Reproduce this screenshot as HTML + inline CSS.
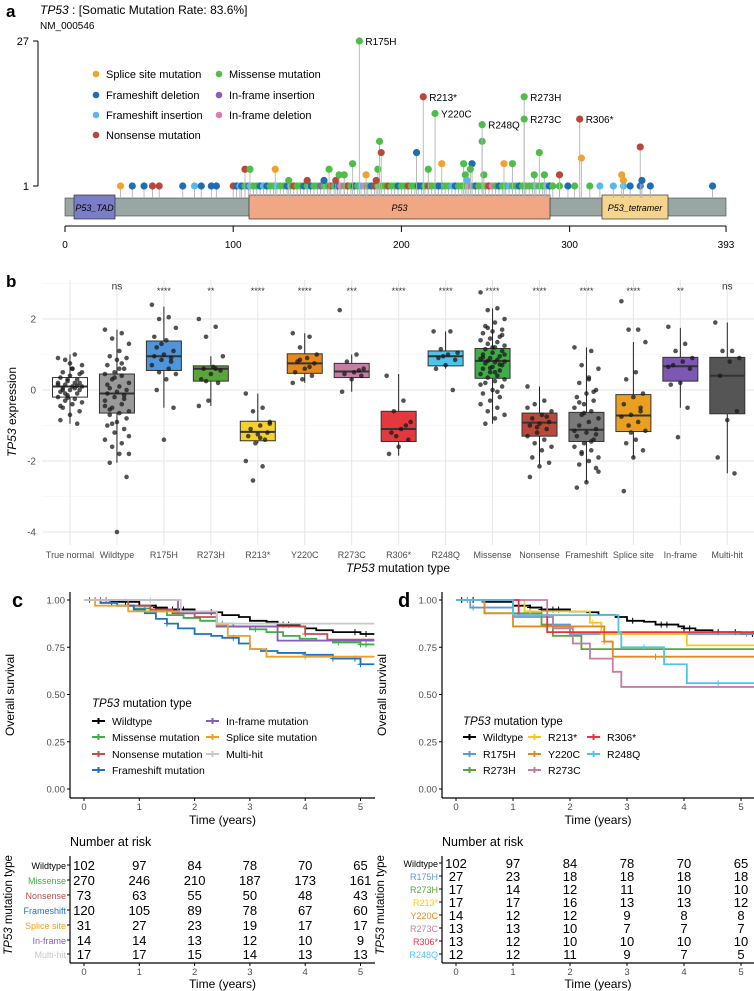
<!DOCTYPE html>
<html><head><meta charset="utf-8">
<style>
html,body{margin:0;padding:0;background:#fff;}
svg{display:block;font-family:"Liberation Sans",sans-serif;}
</style></head>
<body>
<svg id="fig" width="754" height="991" viewBox="0 0 754 991" xmlns="http://www.w3.org/2000/svg">
<g id="pa"></g>
<g id="pb"></g>
<g id="pc"></g>
<g id="pd"></g>
</svg>
<script>
// ---------- Panel a data ----------
const mutTypes = {M:"#4fbd4a",F:"#1f6db3",I:"#5cb6e8",N:"#b9473c",S:"#f0a22e",P:"#8b5db8",D:"#e07cb4"};
const mutLabelsPos = [175,213,220,248,273,273,306];
const mutLabelsCount = [27,17,14,12,17,13,13];
const mutLabelsText = ["R175H","R213*","Y220C","R248Q","R273H","R273C","R306*"];
const mutLabelsType = ["M","N","M","M","M","M","N"];
const elevPos = [107,110,125,133,157,154,144,161,163,166,171,179,186,187,188,185,209,216,224,237,242,241,238,239,248,249,261,266,279,282,285,294,307,331,332,342,343];
const elevCount = [4,4,4,2,4,2,2,2,3,3,5,3,4,9,7,2,7,4,5,5,5,4,3,2,9,3,5,5,3,7,3,3,6,3,2,8,2];
const elevType = "NMSMMFNNMMMSMMNNFMSMFMMIMMSMMMMNSSSNF";
const basePos = [33,40,47,52,56,70,77,81,87,90,100,102,104,105,107,109,110,112,114,116,118,120,122,124,126,128,130,132,134,136,138,140,142,144,146,148,150,152,154,156,158,160,162,164,166,168,170,172,174,176,178,180,182,184,186,188,190,192,194,196,198,200,202,204,206,208,210,212,214,216,218,220,222,224,226,228,230,232,234,236,238,240,242,244,246,248,250,252,254,256,258,260,262,264,266,268,270,272,274,276,278,280,282,284,286,288,290,294,299,303,312,318,326,332,336,342,348];
const baseType = "SFFNNFIFFFNFIFMFIMMFIFMMIMMFMNMMFMFMMPMMNMFDMNMFMIDMFNMMMNMMFMMNMMFFMNMMFFMMIFMMMDMFMMMNDMFMMIMMFMMMMIMMIFMMFMMIIIFFFNMFFFF";
const farPos = [385];
const farType = "F";

// ---------- Panel b data ----------
const bCats = ["True normal","Wildtype","R175H","R273H","R213*","Y220C","R273C","R306*","R248Q","Missense","Nonsense","Frameshift","Splice site","In-frame","Multi-hit"];
const bSig = ["","ns","****","**","****","****","***","****","****","****","****","****","****","**","ns"];
const bMed = [0.1,-0.1,0.95,0.6,-1.18,0.75,0.52,-1.1,0.95,0.82,-0.92,-1.12,-0.72,0.67,0.4];
const bQ1 = [-0.2,-0.65,0.55,0.25,-1.43,0.47,0.35,-1.45,0.68,0.33,-1.3,-1.45,-1.17,0.25,-0.67];
const bQ3 = [0.35,0.45,1.38,0.68,-0.88,1.02,0.75,-0.6,1.1,1.17,-0.65,-0.63,-0.13,0.92,0.92];
const bLo = [-0.95,-2.05,-0.5,-0.45,-1.5,0.2,-0.05,-1.85,0.6,-0.95,-2.1,-2.6,-1.9,-0.5,-2.35];
const bHi = [1.0,1.7,2.35,0.95,-0.1,1.6,1.0,0.45,1.65,2.3,0.1,1.2,1.35,1.75,1.9];
const bFill = ["#ffffff","#9a9a9a","#4f95d8","#5ba43c","#f6d12b","#e6891c","#c67da3","#e2393f","#4ec4ea","#3fae49","#b84a3b","#7a7a7a","#e9a020","#7d58b3","#555555"];
const bPts = [
 [0.9,1.0,0.85,0.7,0.6,0.5,0.45,0.4,0.35,0.3,0.25,0.2,0.2,0.15,0.1,0.1,0.05,0,0,-0.05,-0.1,-0.15,-0.2,-0.25,-0.3,-0.35,-0.4,-0.5,-0.6,-0.7,-0.85,-0.95,0.3,0.15,0.05,-0.1,0.5,0.6,0.0,0.2,0.75,-0.45,0.12,-0.22],
 [1.7,1.6,1.45,1.3,1.1,0.95,0.9,0.85,0.7,0.6,0.5,0.45,0.4,0.3,0.2,0.1,0.05,0,-0.05,-0.1,-0.15,-0.2,-0.3,-0.4,-0.5,-0.6,-0.65,-0.7,-0.8,-0.9,-1.0,-1.1,-1.2,-1.4,-1.5,-1.6,-1.8,-1.8,-2.05,-2.45,-4.0,0.15,-0.25,0.35,-0.45,0.75,-0.95,-1.3,0.6,-0.55],
 [2.4,2.05,2.0,1.75,1.4,1.2,1.1,1.0,0.95,0.9,0.85,0.7,0.6,0.5,0.45,0.3,0.0,-0.5,-1.4,1.5,0.8,1.3],
 [2.0,1.78,1.5,0.95,0.65,0.6,0.55,0.45,0.3,0.2,-0.3,-0.45,0.6,0.25],
 [-0.1,-0.5,-0.6,-0.9,-1.0,-1.1,-1.2,-1.25,-1.3,-1.4,-1.5,-2.0,-2.15,-2.55,-0.95,-1.35],
 [1.6,1.5,1.2,1.0,0.9,0.8,0.75,0.6,0.5,0.4,0.3,0.2,0.65,0.85],
 [2.25,1.0,0.8,0.6,0.5,0.45,0.4,0.3,-0.05,0.55],
 [0.4,-0.3,-0.6,-0.9,-1.1,-1.2,-1.4,-1.6,-1.8,-1.0,-1.3],
 [1.65,1.65,1.15,1.05,1.0,0.9,0.85,0.7,0.6,0.0,0.95],
 [2.75,2.3,2.25,2.0,1.9,1.8,1.7,1.65,1.6,1.5,1.45,1.4,1.35,1.3,1.25,1.2,1.15,1.1,1.05,1.0,0.95,0.9,0.88,0.85,0.82,0.8,0.78,0.75,0.7,0.65,0.6,0.55,0.5,0.45,0.4,0.35,0.3,0.25,0.2,0.1,0.0,-0.1,-0.2,-0.3,-0.4,-0.5,-0.6,-0.7,-0.8,-0.95,1.55,1.2,0.92,0.72,0.62,0.15,-0.05,1.75,1.0,0.5],
 [0.1,-0.3,-0.4,-0.6,-0.7,-0.8,-0.9,-0.95,-1.0,-1.1,-1.2,-1.3,-1.4,-1.5,-1.6,-1.7,-1.9,-2.05,-2.15,-2.45,-0.75,-1.05,-0.5],
 [1.2,1.1,0.7,0.6,0.3,0.2,0.0,-0.1,-0.2,-0.3,-0.4,-0.5,-0.6,-0.7,-0.8,-0.9,-1.0,-1.1,-1.2,-1.3,-1.4,-1.5,-1.6,-1.7,-1.8,-1.9,-2.0,-2.1,-2.2,-2.6,-2.75,-0.05,-0.65,-1.15,-1.45,-1.75,-2.3,0.35,-0.35,-1.25],
 [2.5,1.7,1.7,1.35,0.5,0.3,-0.1,-0.2,-0.4,-0.5,-0.7,-0.75,-0.9,-1.0,-1.15,-1.4,-1.5,-1.7,-1.9,-2.85,-0.6,-1.2],
 [1.78,1.3,1.1,0.9,0.8,0.7,0.6,0.2,0.15,-0.5,-1.33,0.65],
 [1.9,1.1,1.1,0.9,0.8,0.4,-0.6,-0.85,-1.9,-2.35]
];

// ---------- Panel c data ----------
const cNames = ["Wildtype","Missense mutation","Nonsense mutation","Frameshift mutation","In-frame mutation","Splice site mutation","Multi-hit"];
const cColors = ["#000000","#3fae49","#c0504d","#1f72c0","#8a5cb8","#f0a020","#c8c8c8"];
const cTimes = [
 [0.5,1.0,1.3,1.5,2.0,2.3,2.5,2.8,3.0,3.3,3.5,3.9,4.0,4.2,4.5,5.0],
 [0.3,0.6,0.9,1.2,1.5,1.8,2.1,2.4,2.7,3.0,3.3,3.6,3.9,4.2,4.5,5.0],
 [0.8,1.2,1.6,2.0,2.4,3.5,4.0,4.4],
 [0.3,0.6,0.9,1.1,1.3,1.5,1.7,2.0,2.3,2.5,2.8,3.0,3.2,3.5,4.0,4.5,5.0],
 [1.7,2.4,3.5],
 [0.2,0.8,2.4,2.6,3.0,3.3],
 [1.75,2.4]
];
const cSurv = [
 [0.99,0.97,0.96,0.95,0.94,0.935,0.92,0.91,0.89,0.885,0.87,0.86,0.85,0.84,0.83,0.82],
 [0.985,0.97,0.955,0.94,0.92,0.905,0.89,0.875,0.86,0.845,0.83,0.81,0.795,0.785,0.775,0.765],
 [0.97,0.95,0.93,0.91,0.86,0.86,0.82,0.79],
 [0.985,0.97,0.95,0.93,0.90,0.875,0.85,0.82,0.81,0.80,0.77,0.74,0.73,0.72,0.71,0.69,0.66],
 [0.93,0.86,0.785],
 [0.97,0.94,0.87,0.81,0.74,0.70],
 [0.94,0.875]
];
const cCensor = [[0.1,0.2,0.5,0.75,1.3,1.6,1.7,1.8,2.3,3.6,3.7,4.9,5.1],[0.2,1.1,2.5,3.1,4.6,5.0,5.1],[0.3,2.6,4.0],[0.1,1.5,2.7,3.3,4.0,4.5,4.9,5.0],[0.4],[4.0],[1.2]];
const cRiskLabels = ["Wildtype","Missense","Nonsense","Frameshift","Splice site","In-frame","Multi-hit"];
const cRiskColors = ["#000000","#3fae49","#c0504d","#1f72c0","#f0a020","#8a5cb8","#c8c8c8"];
const cRisk = [[102,97,84,78,70,65],[270,246,210,187,173,161],[73,63,55,50,48,43],[120,105,89,78,67,60],[31,27,23,19,17,17],[14,14,13,12,10,9],[17,17,15,14,13,13]];

// ---------- Panel d data ----------
const dNames = ["Wildtype","R175H","R273H","R213*","Y220C","R273C","R306*","R248Q"];
const dColors = ["#000000","#5b9bd5","#5ba43c","#f6c91b","#e6891c","#c67da3","#e8343c","#4ec4ea"];
const dTimes = [
 [0.5,1.0,1.3,1.5,2.0,2.3,2.5,2.8,3.0,3.3,3.5,3.9,4.0,4.2,4.5,5.0],
 [0.25,0.5,1.0,1.7,2.0],
 [0.5,1.5,1.7,2.2],
 [1.2,2.35,2.55,4.05],
 [0.5,1.0,2.4,2.6,2.75],
 [1.6,1.7,2.05,2.35,2.75,2.9],
 [1.1,1.6],
 [1.0,2.85,2.9,3.65,4.05]
];
const dSurv = [
 [0.99,0.97,0.96,0.95,0.94,0.935,0.92,0.91,0.89,0.885,0.87,0.86,0.85,0.84,0.83,0.82],
 [0.96,0.96,0.91,0.87,0.82],
 [0.93,0.87,0.81,0.74],
 [0.94,0.88,0.82,0.76],
 [0.93,0.86,0.86,0.78,0.70],
 [0.92,0.85,0.77,0.69,0.62,0.54],
 [0.92,0.83],
 [0.92,0.83,0.75,0.66,0.56]
];
const dCensor = [[0.1,0.3,0.5,1.3,1.5,1.6,1.7,1.8,3.1,3.6,3.7,4.0,4.1,4.6,4.9,5.2],[0.3,5.1],[1.0],[2.4,1.3],[2.6,3.5],[],[0.2],[0.2,3.3,4.6]];
const dRiskLabels = ["Wildtype","R175H","R273H","R213*","Y220C","R273C","R306*","R248Q"];
const dRisk = [[102,97,84,78,70,65],[27,23,18,18,18,18],[17,14,12,11,10,10],[17,17,16,13,13,12],[14,12,12,9,8,8],[13,13,10,7,7,7],[13,12,10,10,10,10],[12,12,11,9,7,5]];

const NS="http://www.w3.org/2000/svg";
function mk(parent,tag,attrs,txt){const e=document.createElementNS(NS,tag);for(const k in attrs)e.setAttribute(k,attrs[k]);if(txt!==undefined)e.textContent=txt;parent.appendChild(e);return e;}

// ================= Panel a =================
(function(){
 const g=document.getElementById('pa');
 const px=p=>65+p*1.682, py=c=>186-(c-1)*145/26;
 let t=mk(g,'text',{x:6,y:17,'font-size':17,'font-weight':'bold'},'a');
 
 
 t=mk(g,'text',{x:40,y:14,'font-size':12});
 
 
 mk(t,'tspan',{'font-style':'italic'},'TP53');
 mk(t,'tspan',{},' : [Somatic Mutation Rate: 83.6%]');
 t=mk(g,'text',{x:40,y:29,'font-size':10},'NM_000546');
 
 
 mk(g,'line',{x1:38,y1:py(27),x2:38,y2:py(1),stroke:'#000','stroke-width':1});
 mk(g,'line',{x1:33,y1:py(27),x2:38,y2:py(27),stroke:'#000'});
 mk(g,'line',{x1:33,y1:py(1),x2:38,y2:py(1),stroke:'#000'});
 mk(g,'text',{x:29,y:py(27)+4,'font-size':11,'text-anchor':'end'},'27');
 mk(g,'text',{x:29,y:py(1)+4,'font-size':11,'text-anchor':'end'},'1');
 let r=mk(g,'rect',{x:65,y:198,width:661,height:18,fill:'#98a6a4',stroke:'#444','stroke-width':0.6});
 
 
 const doms=[[74,115,'#7a7ec6','P53_TAD'],[249,550,'#f2a784','P53'],[602,668,'#f6d48e','P53_tetramer']];
 doms.forEach(d=>{const dg=mk(g,'g',{});
  
  
  mk(dg,'rect',{x:d[0],y:195,width:d[1]-d[0],height:24,fill:d[2],stroke:'#333','stroke-width':0.7});
  mk(dg,'text',{x:(d[0]+d[1])/2,y:211,'font-size':9,'font-style':'italic','text-anchor':'middle'},d[3]);});
 mk(g,'line',{x1:65,y1:226,x2:726,y2:226,stroke:'#000'});
 [0,100,200,300,393].forEach(v=>{mk(g,'line',{x1:px(v),y1:226,x2:px(v),y2:232,stroke:'#000'});
  mk(g,'text',{x:px(v),y:248,'font-size':10,'text-anchor':'middle'},String(v));});
 function lolly(p,c,ty,name){const lg=mk(g,'g',{});
  
  
  mk(lg,'line',{x1:px(p),y1:198,x2:px(p),y2:py(c),stroke:'#b5b5b5','stroke-width':0.9});
  mk(lg,'circle',{cx:px(p),cy:py(c),r:3.6,fill:mutTypes[ty]||mutTypes.F});}
 basePos.forEach((p,i)=>lolly(p,1,baseType[i],'mutation-'+p));
 farPos.forEach((p,i)=>lolly(p,1,farType[i],'mutation-'+p));
 elevPos.forEach((p,i)=>lolly(p,elevCount[i],elevType[i],'mutation-'+p));
 mutLabelsPos.forEach((p,i)=>{lolly(p,mutLabelsCount[i],mutLabelsType[i],'hotspot-'+mutLabelsText[i].toLowerCase().replace('*','x'));
  mk(g,'text',{x:px(p)+6,y:py(mutLabelsCount[i])+4,'font-size':10},mutLabelsText[i]);});
 const leg=[['S','Splice site mutation',96,74],['F','Frameshift deletion',96,95],['I','Frameshift insertion',96,115],['N','Nonsense mutation',96,135],['M','Missense mutation',219,74],['P','In-frame insertion',219,95],['D','In-frame deletion',219,115]];
 leg.forEach(l=>{const lg=mk(g,'g',{});
  
  
  mk(lg,'circle',{cx:l[2],cy:l[3],r:3.3,fill:mutTypes[l[0]]});
  mk(lg,'text',{x:l[2]+10,y:l[3]+4,'font-size':11},l[1]);});
})();

// ================= Panel b =================
(function(){
 const g=document.getElementById('pb');
 const bx=i=>70+i*46.95, by=v=>390-v*35.5;
 let t=mk(g,'text',{x:6,y:287,'font-size':17,'font-weight':'bold'},'b');
 
 
 for(let v=-4;v<=3;v++){mk(g,'line',{x1:42,y1:by(v),x2:754,y2:by(v),stroke:v%2===0?'#e6e6e6':'#f2f2f2','stroke-width':v%2===0?1:0.6});}
 bCats.forEach((c,i)=>mk(g,'line',{x1:bx(i),y1:280,x2:bx(i),y2:545,stroke:'#e6e6e6'}));
 [2,0,-2,-4].forEach(v=>mk(g,'text',{x:36,y:by(v)+3.5,'font-size':10,fill:'#4d4d4d','text-anchor':'end'},String(v)));
 t=mk(g,'text',{x:0,y:0,'font-size':12,'text-anchor':'middle',transform:'translate(16,412) rotate(-90)'});
 
 
 mk(t,'tspan',{'font-style':'italic'},'TP53');mk(t,'tspan',{},' expression');
 bCats.forEach((c,i)=>{const bg=mk(g,'g',{});
  
  
  const x=bx(i),w=35;
  mk(bg,'line',{x1:x,y1:by(bHi[i]),x2:x,y2:by(bLo[i]),stroke:'#222','stroke-width':1});
  mk(bg,'rect',{x:x-w/2,y:by(bQ3[i]),width:w,height:by(bQ1[i])-by(bQ3[i]),fill:bFill[i],stroke:'#333','stroke-width':1});
  mk(bg,'line',{x1:x-w/2,y1:by(bMed[i]),x2:x+w/2,y2:by(bMed[i]),stroke:'#333','stroke-width':2});
  bPts[i].forEach((v,j)=>{const off=((j*7)%11-5)*2.4;
   mk(bg,'circle',{cx:x+off,cy:by(v),r:2.3,fill:'rgba(25,25,25,0.75)'});});
  mk(g,'text',{x:x,y:by(bSig[i]==='ns'?2.83:2.7),'font-size':bSig[i]==='ns'?10:9,fill:'#333','text-anchor':'middle'},bSig[i]);
  const lt=mk(g,'text',{x:x,y:558,'font-size':9,fill:'#4d4d4d','text-anchor':'middle'},c);
  
  
 });
 t=mk(g,'text',{x:398,y:572,'font-size':12,'text-anchor':'middle'});
 
 
 mk(t,'tspan',{'font-style':'italic'},'TP53');mk(t,'tspan',{},' mutation type');
})();

// ================= Survival panels =================
function survPanel(gid,letter,L,names,colors,times,surv,censor,legendPos,riskLabels,riskColors,risk,riskRows){
 const g=document.getElementById(gid);
 const sx=t=>L.x0+t*L.k, sy=s=>789-s*189;
 let t=mk(g,'text',{x:L.lx,y:607,'font-size':20,'font-weight':'bold'},letter);
 
 
 mk(g,'line',{x1:L.ax,y1:592,x2:L.ax,y2:798,stroke:'#000','stroke-width':1.2});
 mk(g,'line',{x1:L.ax,y1:798,x2:L.right,y2:798,stroke:'#000','stroke-width':1.2});
 [0,0.25,0.5,0.75,1].forEach(v=>{mk(g,'line',{x1:L.ax-3,y1:sy(v),x2:L.ax,y2:sy(v),stroke:'#000'});
  mk(g,'text',{x:L.ax-5,y:sy(v)+3.5,'font-size':9.5,fill:'#4d4d4d','text-anchor':'end'},v.toFixed(2));});
 for(let i=0;i<=5;i++){mk(g,'line',{x1:sx(i),y1:798,x2:sx(i),y2:801,stroke:'#000'});
  mk(g,'text',{x:sx(i),y:810,'font-size':9.5,fill:'#4d4d4d','text-anchor':'middle'},String(i));}
 mk(g,'text',{x:(L.ax+L.right)/2,y:824,'font-size':12,'text-anchor':'middle'},'Time (years)');
 t=mk(g,'text',{x:0,y:0,'font-size':12,'text-anchor':'middle',transform:`translate(${L.ax-56},695) rotate(-90)`},'Overall survival');
 
 
 const tEnd=5.25;
 names.forEach((n,i)=>{
  let d=`M${sx(0)},${sy(1)}`;
  times[i].forEach((tt,j)=>{d+=` H${sx(tt)} V${sy(surv[i][j])}`;});
  d+=` H${sx(tEnd)}`;
  const p=mk(g,'path',{d:d,fill:'none',stroke:colors[i],'stroke-width':1.8});
  
  
  censor[i].forEach(ct=>{let s=1;times[i].forEach((tt,j)=>{if(tt<=ct)s=surv[i][j];});
   mk(g,'path',{d:`M${sx(ct)-3},${sy(s)} h6 M${sx(ct)},${sy(s)-3} v6`,stroke:colors[i],'stroke-width':1});});
 });
 t=mk(g,'text',{x:legendPos.tx,y:legendPos.ty,'font-size':11.5});
 
 
 mk(t,'tspan',{'font-style':'italic'},'TP53');mk(t,'tspan',{},' mutation type');
 names.forEach((n,i)=>{const [lx,ly]=legendPos.items[i];const lg=mk(g,'g',{});
  
  
  mk(lg,'path',{d:`M${lx},${ly} h13 M${lx+6.5},${ly-3} v6`,stroke:colors[i],'stroke-width':2});
  mk(lg,'text',{x:lx+20,y:ly+4,'font-size':10.5},n);});
 mk(g,'text',{x:L.ax,y:846,'font-size':12.5},'Number at risk');
 const rTop=856,rBot=963;
 mk(g,'line',{x1:L.ax,y1:rTop,x2:L.ax,y2:rBot,stroke:'#000','stroke-width':1.2});
 mk(g,'line',{x1:L.ax,y1:rBot,x2:L.right,y2:rBot,stroke:'#000','stroke-width':1.2});
 for(let i=0;i<=5;i++){mk(g,'line',{x1:sx(i),y1:rBot,x2:sx(i),y2:rBot+3,stroke:'#000'});
  mk(g,'text',{x:sx(i),y:975,'font-size':9.5,fill:'#4d4d4d','text-anchor':'middle'},String(i));}
 mk(g,'text',{x:(L.ax+L.right)/2,y:988,'font-size':12,'text-anchor':'middle'},'Time (years)');
 t=mk(g,'text',{x:0,y:0,'font-size':11.5,'text-anchor':'middle',transform:`translate(${L.ax-58},905) rotate(-90)`});
 
 
 mk(t,'tspan',{'font-style':'italic'},'TP53');mk(t,'tspan',{},' mutation type');
 riskLabels.forEach((lab,i)=>{const y=riskRows[i];
  mk(g,'line',{x1:L.ax-3,y1:y-4,x2:L.ax,y2:y-4,stroke:'#000'});
  const rl=mk(g,'text',{x:L.ax-4,y:y,'font-size':9,fill:riskColors[i],'text-anchor':'end'},lab);
  
  
  risk[i].forEach((v,j)=>{mk(g,'text',{x:sx(j),y:y+1,'font-size':13,'text-anchor':'middle'},String(v));});
 });
}
survPanel('pc','c',{x0:84,k:55.3,ax:70,right:375,lx:12},cNames,cColors,cTimes,cSurv,cCensor,
 {tx:92,ty:707,items:[[92,721],[92,737],[92,754],[92,770],[206,721],[206,737],[206,754]]},
 cRiskLabels,cRiskColors,cRisk,[869,884,899,914,929,944,958]);
survPanel('pd','d',{x0:456,k:57,ax:442,right:754,lx:398},dNames,dColors,dTimes,dSurv,dCensor,
 {tx:463,ty:725,items:[[463,737],[463,754],[463,770],[528,737],[528,754],[528,770],[587,737],[587,754]]},
 dRiskLabels,dColors,dRisk,[867,880,893,906,919,932,945,958]);
</script>
</body></html>
